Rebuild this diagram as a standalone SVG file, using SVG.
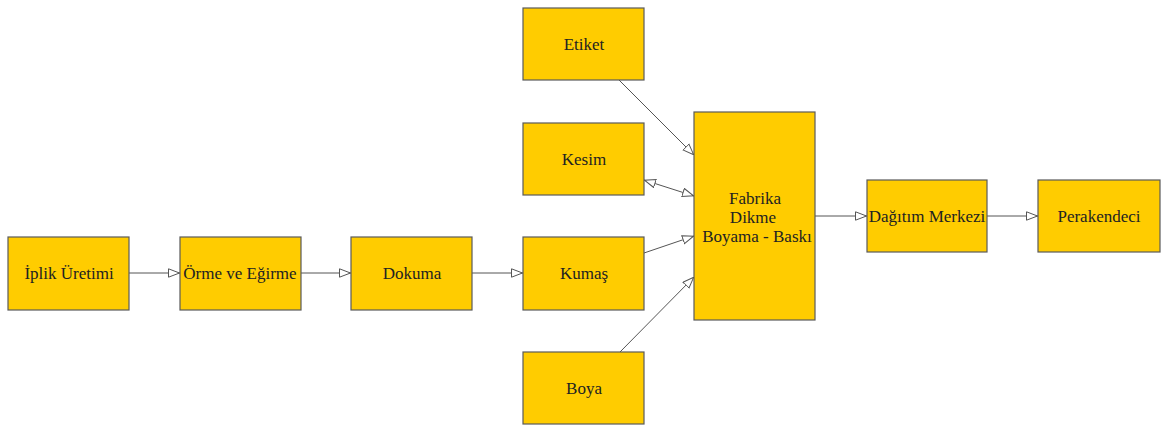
<svg xmlns="http://www.w3.org/2000/svg" width="1161" height="426" viewBox="0 0 1161 426">
  <style>
    .box { fill: #FFCC00; stroke: #5a5a5a; stroke-width: 1.2; }
    .lbl { font-family: "Liberation Serif", "Times New Roman", serif; font-size: 17px; fill: #222; text-anchor: middle; }
    .edge { stroke: #555; stroke-width: 1; fill: none; }
  </style>
  <defs>
    <marker id="tri" viewBox="0 0 12 10" refX="12" refY="5" markerWidth="12" markerHeight="10" markerUnits="userSpaceOnUse" orient="auto-start-reverse">
      <path d="M0.5,0.8 L11.5,5 L0.5,9.2 Z" fill="#fff" stroke="#555" stroke-width="1"/>
    </marker>
  </defs>
  <rect width="1161" height="426" fill="#fff"/>

  <g id="connectors">
    <line class="edge" x1="129" y1="273" x2="180" y2="273" marker-end="url(#tri)"/>
    <line class="edge" x1="301" y1="273" x2="351" y2="273" marker-end="url(#tri)"/>
    <line class="edge" x1="472" y1="273" x2="523" y2="273" marker-end="url(#tri)"/>
    <line class="edge" x1="619" y1="80" x2="694" y2="155" marker-end="url(#tri)"/>
    <line class="edge" x1="644" y1="180" x2="694" y2="196" marker-start="url(#tri)" marker-end="url(#tri)"/>
    <line class="edge" x1="644" y1="253" x2="694" y2="236" marker-end="url(#tri)"/>
    <line class="edge" x1="620" y1="352" x2="694" y2="277" marker-end="url(#tri)"/>
    <line class="edge" x1="815" y1="216" x2="867" y2="216" marker-end="url(#tri)"/>
    <line class="edge" x1="987" y1="216" x2="1038" y2="216" marker-end="url(#tri)"/>
  </g>

  <g id="iplik">
    <rect class="box" x="8" y="237" width="121" height="73"/>
    <text class="lbl" x="69" y="279">İplik Üretimi</text>
  </g>
  <g id="orme">
    <rect class="box" x="180" y="237" width="121" height="73"/>
    <text class="lbl" x="240" y="279">Örme ve Eğirme</text>
  </g>
  <g id="dokuma">
    <rect class="box" x="351" y="237" width="121" height="73"/>
    <text class="lbl" x="412" y="279">Dokuma</text>
  </g>
  <g id="kumas">
    <rect class="box" x="523" y="237" width="121" height="73"/>
    <text class="lbl" x="584" y="279">Kumaş</text>
  </g>
  <g id="etiket">
    <rect class="box" x="523" y="8" width="121" height="72"/>
    <text class="lbl" x="584" y="50">Etiket</text>
  </g>
  <g id="kesim">
    <rect class="box" x="523" y="123" width="121" height="72"/>
    <text class="lbl" x="584" y="165">Kesim</text>
  </g>
  <g id="boya">
    <rect class="box" x="523" y="352" width="121" height="72"/>
    <text class="lbl" x="584" y="394">Boya</text>
  </g>
  <g id="fabrika">
    <rect class="box" x="694" y="112" width="121" height="208"/>
    <text class="lbl" x="755" y="204">Fabrika</text>
    <text class="lbl" x="753" y="223">Dikme</text>
    <text class="lbl" x="757" y="242">Boyama - Baskı</text>
  </g>
  <g id="dagitim">
    <rect class="box" x="867" y="180" width="120" height="72"/>
    <text class="lbl" x="927" y="222">Dağıtım Merkezi</text>
  </g>
  <g id="perakendeci">
    <rect class="box" x="1038" y="180" width="122" height="72"/>
    <text class="lbl" x="1099" y="222">Perakendeci</text>
  </g>
</svg>
